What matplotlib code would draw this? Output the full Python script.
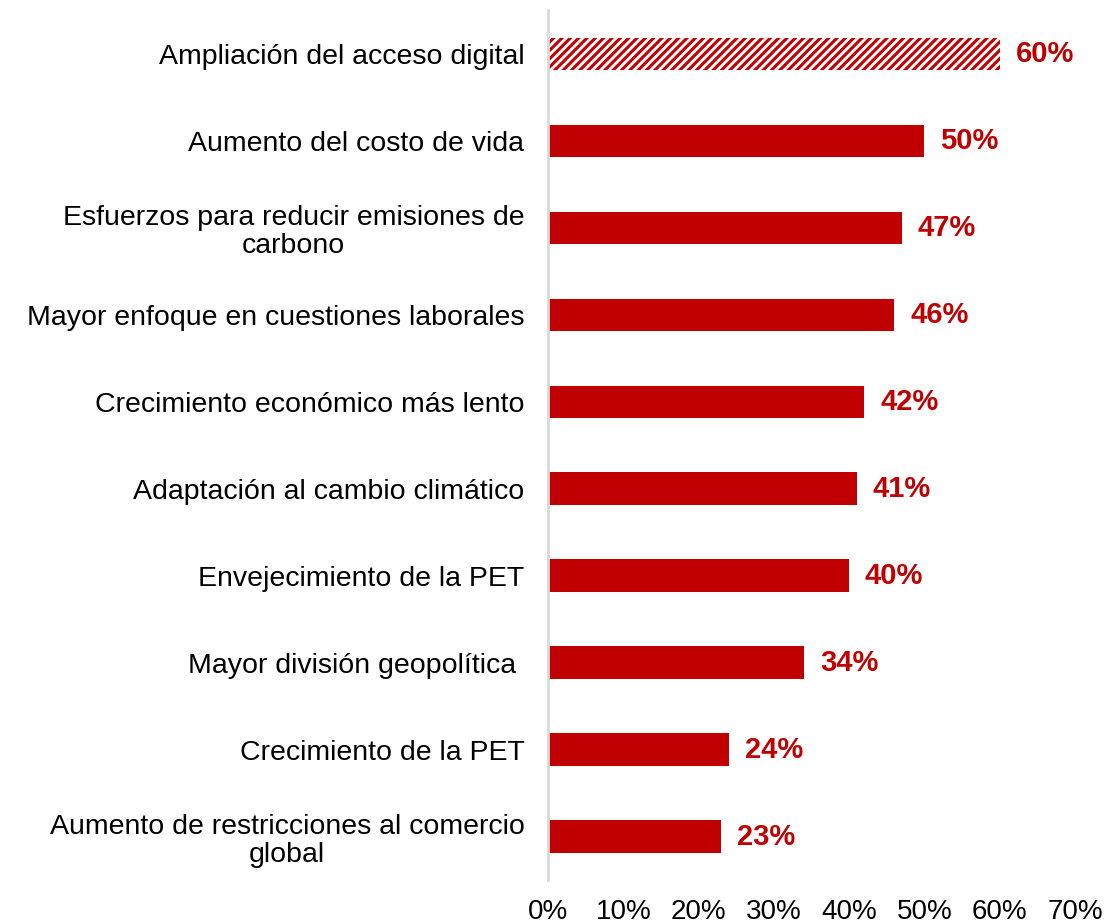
import matplotlib.pyplot as plt
import matplotlib.ticker as mticker

categories = [
    'Ampliación del acceso digital',
    'Aumento del costo de vida',
    'Esfuerzos para reducir emisiones de\ncarbono',
    'Mayor enfoque en cuestiones laborales',
    'Crecimiento económico más lento',
    'Adaptación al cambio climático',
    'Envejecimiento de la PET',
    'Mayor división geopolítica ',
    'Crecimiento de la PET',
    'Aumento de restricciones al comercio\nglobal',
]
values = [60, 50, 47, 46, 42, 41, 40, 34, 24, 23]

red = '#C00000'
plt.rcParams['font.family'] = ['Liberation Sans', 'DejaVu Sans']
plt.rcParams['hatch.linewidth'] = 2.2

fig = plt.figure(figsize=(11.1, 9.24), dpi=100)
ax = fig.add_axes([0.4937, 0.0476, 0.4748, 0.9414])

ypos = list(range(len(categories)))
bars = ax.barh(ypos, values, height=0.37, color=red, edgecolor='none')
bars[0].set_facecolor('white')
bars[0].set_edgecolor(red)
bars[0].set_hatch('////')
bars[0].set_linewidth(0)

for y, v in zip(ypos, values):
    ax.text(v + 2.1, y, '{}%'.format(v), va='center', ha='left',
            fontsize=21, fontweight='bold', color=red)

ax.set_ylim(len(categories) - 0.5, -0.5)
ax.set_xlim(0, 70)
ax.set_yticks(ypos)
ax.set_yticklabels(categories, fontsize=20.5, ha='right',
                   multialignment='center', linespacing=1.12)
ax.tick_params(axis='y', length=0, pad=17)
ax.set_xticks(range(0, 71, 10))
ax.xaxis.set_major_formatter(mticker.FuncFormatter(lambda x, p: '{:.0f}%'.format(x)))
ax.tick_params(axis='x', length=0, labelsize=20, pad=14)

for s in ['top', 'right', 'bottom']:
    ax.spines[s].set_visible(False)
ax.spines['left'].set_color('#D9D9D9')
ax.spines['left'].set_linewidth(2)

plt.savefig('out.png')
